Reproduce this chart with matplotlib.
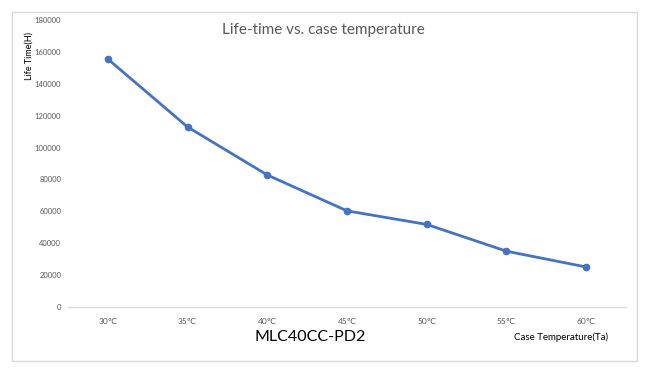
import matplotlib
matplotlib.use("Agg")
import matplotlib.pyplot as plt
from matplotlib.patches import Rectangle

categories = ["30℃", "35℃", "40℃", "45℃", "50℃", "55℃", "60℃"]
life_time = [155500, 112900, 82800, 60300, 51800, 35000, 25100]
yticks = [0, 20000, 40000, 60000, 80000, 100000, 120000, 140000, 160000, 180000]

plt.rcParams['font.family'] = ['Lato', 'DejaVu Sans']

fig = plt.figure(figsize=(6.48, 3.72), dpi=100)
ax = fig.add_axes([68/648, 1-307/372, (626-68)/648, (307-20)/372])

x = list(range(len(categories)))
ax.plot(x, life_time, color="#4472C4", lw=2, marker="o", ms=4.5)
ax.set_xlim(-0.5, len(categories) - 0.5)
ax.set_ylim(0, 180000)
ax.set_xticks(x)
ax.set_xticklabels(categories, fontsize=6, color="#595959")
ax.set_yticks(yticks)
ax.set_yticklabels([str(v) for v in yticks], fontsize=5.5, color="#595959")
ax.tick_params(axis='x', length=0, pad=8)
ax.tick_params(axis='y', length=0, pad=5)
for s in ["top", "right", "left"]:
    ax.spines[s].set_visible(False)
ax.spines["bottom"].set_color("#D9D9D9")
ax.spines["bottom"].set_linewidth(1)

fig.text(323/648, 1-30/372, "Life-time vs. case temperature", ha="center", va="center",
         fontsize=11, color="#595959")
fig.text(29/648, 1-56/372, "Life Time(H)", rotation=90, ha="center", va="center",
         fontsize=6.5, color="#000000")
fig.text(310/648, 1-337/372, "MLC40CC-PD2", ha="center", va="center", fontsize=11.5, color="#000000")
fig.text(561/648, 1-337/372, "Case Temperature(Ta)", ha="center", va="center", fontsize=7, color="#000000")

fig.patches.append(Rectangle((12/648, 1-361/372), (637-12)/648, (361-12)/372,
                             transform=fig.transFigure, fill=False, edgecolor="#D9D9D9", lw=1))

fig.savefig("out.png", dpi=100)
